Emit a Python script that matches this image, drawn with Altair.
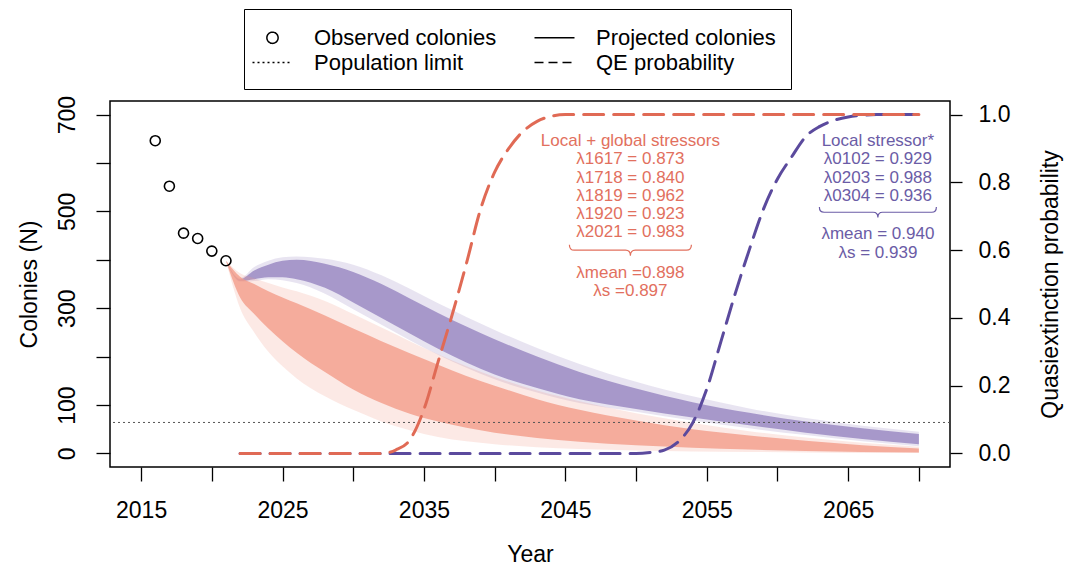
import altair as alt
import pandas as pd

# ---------------- data ----------------
obs_years = [2016, 2017, 2018, 2019, 2020, 2021]
obs_colonies = [646, 552, 455, 444, 418, 398]

band_years = [2021, 2022, 2023, 2024, 2025, 2026, 2028, 2030, 2032, 2034, 2036,
              2038, 2040, 2043, 2046, 2050, 2054, 2058, 2062, 2066, 2070]
# local + global stressors (salmon trajectories): envelope and dense core
global_outer_hi = [398, 372, 362, 352, 343, 335, 315, 288, 260, 232, 205, 180, 158, 130, 108, 83, 63, 46, 33, 22, 14]
global_outer_lo = [398, 300, 250, 210, 180, 155, 118, 90, 66, 48, 34, 25, 19, 13, 9, 6, 4, 3, 2, 1, 1]
global_core_hi = [398, 365, 350, 335, 322, 310, 285, 258, 232, 207, 183, 160, 140, 112, 90, 68, 50, 37, 26, 17, 10]
global_core_lo = [398, 322, 288, 258, 232, 208, 168, 132, 104, 82, 66, 53, 43, 32, 24, 17, 12, 8, 5, 3, 2]
# local stressor (purple trajectories)
local_outer_hi = [398, 362, 385, 398, 405, 407, 402, 390, 368, 340, 310, 282, 255, 218, 185, 148, 118, 93, 73, 57, 45]
local_outer_lo = [398, 354, 356, 360, 358, 352, 330, 298, 266, 234, 204, 177, 153, 126, 104, 86, 68, 52, 38, 25, 15]
local_core_hi = [398, 360, 378, 390, 398, 400, 392, 375, 350, 320, 290, 262, 236, 200, 168, 134, 106, 84, 66, 52, 40]
local_core_lo = [398, 356, 360, 364, 364, 360, 342, 312, 280, 248, 216, 188, 163, 135, 112, 92, 74, 58, 43, 30, 19]

qe_years = list(range(2022, 2071))
qe_global = ([0.0] * 11 +
             [0.01, 0.04, 0.13, 0.27, 0.41, 0.56, 0.72, 0.83, 0.90, 0.95, 0.98, 0.995] +
             [1.0] * 26)
qe_local = ([0.0] * 29 +
            [0.003, 0.01, 0.035, 0.09, 0.19, 0.33, 0.47, 0.60, 0.72, 0.81, 0.875, 0.935,
             0.965, 0.983, 0.993, 0.998] +
            [1.0] * 4)

pop_limit = [64]

# legend entries, listed column by column (left column, then right column)
legend_keys = ["Observed colonies", "Population limit", "Projected colonies", "QE probability"]
legend_shapes = ["circle", "line", "line", "line"]
legend_dashes = [[1, 0], [2, 3], [1, 0], [9, 5]]

global_title = "Local + global stressors"
global_lambdas = ["λ1617 = 0.873", "λ1718 = 0.840", "λ1819 = 0.962", "λ1920 = 0.923", "λ2021 = 0.983"]
global_summary = ["λmean =0.898", "λs =0.897"]
local_title = "Local stressor*"
local_lambdas = ["λ0102 = 0.929", "λ0203 = 0.988", "λ0304 = 0.936"]
local_summary = ["λmean = 0.940", "λs = 0.939"]

# ---------------- styles ----------------
FONT = "Liberation Sans"
RED = "#E06A55"
RED_TXT = "#E2705E"
PINK = "#F29C8A"
PURPLE = "#9685C0"
PURPLE_DARK = "#5B4A9D"
PURPLE_TXT = "#6B5CA6"

# legend glyphs drawn in a 25 px symbol box (unit = 12.5 px)
CIRCLE_PATH = ("M 0.45 0 C 0.45 0.2485 0.2485 0.45 0 0.45 C -0.2485 0.45 -0.45 0.2485 -0.45 0 "
               "C -0.45 -0.2485 -0.2485 -0.45 0 -0.45 C 0.2485 -0.45 0.45 -0.2485 0.45 0 Z")
LINE_PATH = "M -1.6 0 L 1.6 0"
BRACE_PATH = ("M -1 -0.09 Q -1 0 -0.92 0 L -0.08 0 Q 0 0 0 0.09 "
              "Q 0 0 0.08 0 L 0.92 0 Q 1 0 1 -0.09")

x_scale = alt.Scale(domain=[2012.8, 2072.2], nice=False, zero=False)
y_scale = alt.Scale(domain=[-28, 728], nice=False, zero=False)
p_scale = alt.Scale(domain=[-0.04, 1.04], nice=False, zero=False)

x_axis = alt.Axis(values=list(range(2015, 2071, 5)),
                  labelExpr="(datum.value - 2015) % 10 == 0 ? '' + datum.value : ''",
                  title="Year", tickSize=14, labelPadding=18, titlePadding=21,
                  labelOverlap=False, labelFlush=False)
y_axis = alt.Axis(values=[0, 100, 200, 300, 400, 500, 600, 700],
                  labelExpr="(datum.value == 200 || datum.value == 400 || datum.value == 600) ? '' : '' + datum.value",
                  title="Colonies (N)", tickSize=14, labelAngle=270, labelAlign="center",
                  labelBaseline="bottom", labelPadding=17, titlePadding=15, labelOverlap=False)
p_axis = alt.Axis(orient="right", values=[0, 0.2, 0.4, 0.6, 0.8, 1.0], format=".1f",
                  title="Quasiextinction probability", tickSize=12, labelPadding=16,
                  titleAngle=270, titleBaseline="top", titlePadding=30, labelOverlap=False)

X = alt.X("year:Q", scale=x_scale, axis=x_axis)

bands = pd.DataFrame({
    "year": band_years,
    "g_ohi": global_outer_hi, "g_olo": global_outer_lo,
    "g_chi": global_core_hi, "g_clo": global_core_lo,
    "l_ohi": local_outer_hi, "l_olo": local_outer_lo,
    "l_chi": local_core_hi, "l_clo": local_core_lo,
})


def band(lo, hi, color, opacity):
    return alt.Chart(bands).mark_area(color=color, opacity=opacity, interpolate="monotone").encode(
        x=X,
        y=alt.Y(f"{lo}:Q", scale=y_scale, axis=y_axis),
        y2=alt.Y2(f"{hi}:Q"),
    )


purple_outer = band("l_olo", "l_ohi", PURPLE, 0.22)
purple_core = band("l_clo", "l_chi", PURPLE, 0.8)
pink_outer = band("g_olo", "g_ohi", PINK, 0.22)
pink_core = band("g_clo", "g_chi", PINK, 0.8)

limit_rule = alt.Chart(pd.DataFrame({"limit": pop_limit})).mark_rule(
    color="#555555", strokeWidth=1, strokeDash=[2, 3]
).encode(y=alt.Y("limit:Q", scale=y_scale, axis=y_axis))

obs_df = pd.DataFrame({"year": obs_years, "n": obs_colonies})
obs_points = alt.Chart(obs_df).mark_point(
    shape="circle", filled=False, size=100, strokeWidth=1.6, color="black", opacity=1
).encode(x=X, y=alt.Y("n:Q", scale=y_scale, axis=y_axis))

# annotation blocks (placed in data coordinates)
ann_df = pd.DataFrame({
    "year": [2049.6, 2049.6, 2067.1, 2067.1],
    "n": [662, 390, 662, 469],
    "txt": ["\n".join([global_title] + global_lambdas), "\n".join(global_summary),
            "\n".join([local_title] + local_lambdas), "\n".join(local_summary)],
    "grp": ["global", "global", "local", "local"],
})
ann_text = alt.Chart(ann_df).mark_text(
    font=FONT, fontSize=17, lineBreak="\n", lineHeight=18.3, align="center", baseline="top"
).encode(
    x=X, y=alt.Y("n:Q", scale=y_scale, axis=y_axis), text="txt:N",
    color=alt.Color("grp:N", scale=alt.Scale(domain=["global", "local"], range=[RED_TXT, PURPLE_TXT]), legend=None),
)

brace_g = alt.Chart(pd.DataFrame({"year": [2049.6], "n": [419.8]})).mark_point(
    shape=BRACE_PATH, size=14884, filled=False, strokeWidth=1.2, color=RED_TXT, opacity=1
).encode(x=X, y=alt.Y("n:Q", scale=y_scale, axis=y_axis))
brace_l = alt.Chart(pd.DataFrame({"year": [2067.1], "n": [498.2]})).mark_point(
    shape=BRACE_PATH, size=13689, filled=False, strokeWidth=1.2, color=PURPLE_TXT, opacity=1
).encode(x=X, y=alt.Y("n:Q", scale=y_scale, axis=y_axis))

leg = alt.Legend(
    title=None, orient="none", legendX=134, legendY=-92, columns=2, columnPadding=34,
    rowPadding=0, padding=15, strokeColor="black", labelFont=FONT, labelFontSize=22,
    labelColor="black", labelOffset=28, symbolSize=625, symbolStrokeWidth=1.5,
    symbolStrokeColor="black", symbolFillColor="transparent", symbolOpacity=1, labelLimit=400,
    labelExpr="datum.label == 'Projected colonies' ? datum.label + '\u00a0\u00a0\u00a0' : datum.label",
)
shape_range = [CIRCLE_PATH if s == "circle" else LINE_PATH for s in legend_shapes]
legend_layer = alt.Chart(pd.DataFrame({"key": legend_keys})).transform_filter("false").mark_point(
    filled=False, color="black", strokeWidth=1.5, opacity=1
).encode(
    shape=alt.Shape("key:N", scale=alt.Scale(domain=legend_keys, range=shape_range), legend=leg),
    strokeDash=alt.StrokeDash("key:N", scale=alt.Scale(domain=legend_keys, range=legend_dashes), legend=leg),
)

left = alt.layer(purple_outer, purple_core, pink_outer, pink_core, limit_rule,
                 obs_points, ann_text, brace_g, brace_l, legend_layer)

qe_df = pd.DataFrame({"year": qe_years, "glob": qe_global, "loc": qe_local})
qe_loc = alt.Chart(qe_df).mark_line(
    color=PURPLE_DARK, strokeWidth=3, strokeDash=[20, 10], strokeCap="round", interpolate="monotone"
).encode(x=X, y=alt.Y("loc:Q", scale=p_scale, axis=p_axis))
qe_glob = alt.Chart(qe_df).mark_line(
    color=RED, strokeWidth=3, strokeDash=[20, 10], strokeCap="round", interpolate="monotone"
).encode(x=X, y=alt.Y("glob:Q", scale=p_scale, axis=p_axis))
right = alt.layer(qe_loc, qe_glob)

chart = alt.layer(left, right).resolve_scale(y="independent").properties(
    width=840, height=366, autosize="none",
    padding={"left": 110, "top": 101, "right": 119, "bottom": 101},
).configure_view(
    stroke="black", strokeWidth=1.5
).configure_axis(
    labelFont=FONT, titleFont=FONT, labelFontSize=23, titleFontSize=23, labelColor="black",
    titleColor="black", tickColor="black", tickWidth=1.3, domain=False, grid=False,
    titleFontWeight="normal",
)

chart.save("out.html", embed_options={"renderer": "svg", "actions": False})
